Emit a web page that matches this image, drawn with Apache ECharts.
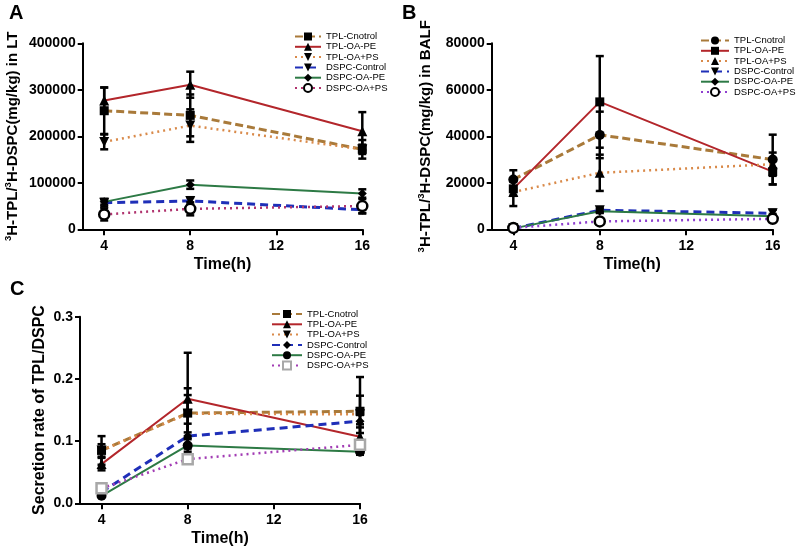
<!DOCTYPE html>
<html>
<head>
<meta charset="utf-8">
<script src="https://cdn.jsdelivr.net/npm/echarts@6/dist/echarts.min.js"></script>
<style>html,body{margin:0;padding:0;background:#fff}#c{width:800px;height:552px}</style>
</head>
<body>
<div id="c"></div>
<script>
// ---------- data ----------
const times = [4, 8, 16];
const xTickValues = [4, 8, 12, 16];
const seriesNames = ['TPL-Cnotrol', 'TPL-OA-PE', 'TPL-OA+PS', 'DSPC-Control', 'DSPC-OA-PE', 'DSPC-OA+PS'];

// Panel A: 3H-TPL/3H-DSPC (mg/kg) in LT
const aTplCnotrol = [255000, 245000, 172000];
const aTplOaPe = [277000, 311000, 211000];
const aTplOaPs = [188000, 223000, 172000];
const aDspcControl = [57000, 61000, 42000];
const aDspcOaPe = [59000, 96000, 77000];
const aDspcOaPs = [32000, 44000, 50000];
const aTplCnotrolErr = [50000, 45000, 20000];
const aTplOaPeErr = [28000, 28000, 41000];
const aTplOaPsErr = [16000, 35000, 10000];
const aDspcControlErr = [8000, 8000, 8000];
const aDspcOaPeErr = [6000, 9000, 9000];
const aDspcOaPsErr = [13000, 14000, 15000];
const aYTicks = [0, 100000, 200000, 300000, 400000];

// Panel B: 3H-TPL/3H-DSPC (mg/kg) in BALF
const bTplCnotrol = [21400, 40600, 30000];
const bTplOaPe = [17400, 54800, 24800];
const bTplOaPs = [16000, 24300, 28000];
const bDspcControl = [400, 8200, 6900];
const bDspcOaPe = [400, 7800, 5600];
const bDspcOaPs = [600, 3400, 4500];
const bTplCnotrolErr = [4000, 10000, 10700];
const bTplOaPeErr = [3000, 19700, 5500];
const bTplOaPsErr = [6000, 7800, 5000];
const bDspcControlErr = [200, 1000, 1500];
const bDspcOaPeErr = [200, 800, 1000];
const bDspcOaPsErr = [200, 600, 800];
const bYTicks = [0, 20000, 40000, 60000, 80000];

// Panel C: secretion rate of TPL/DSPC
const cTplCnotrol = [0.085, 0.145, 0.148];
const cTplOaPe = [0.063, 0.168, 0.107];
const cTplOaPs = [0.085, 0.144, 0.143];
const cDspcControl = [0.018, 0.108, 0.132];
const cDspcOaPe = [0.012, 0.093, 0.083];
const cDspcOaPs = [0.024, 0.071, 0.094];
const cTplCnotrolErr = [0.023, 0.040, 0.055];
const cTplOaPeErr = [0.010, 0.074, 0.020];
const cTplOaPsErr = [0.010, 0.030, 0.030];
const cDspcControlErr = [0.003, 0.020, 0.010];
const cDspcOaPeErr = [0.002, 0.010, 0.005];
const cDspcOaPsErr = [0.003, 0.005, 0.005];
const cYTicks = [0, 0.1, 0.2, 0.3];

// ---------- styles ----------
const FONT = 'Liberation Sans';
const lineStyles = [
  {color: '#a97a3a', width: 3, type: [8, 4]},
  {color: '#b3262b', width: 2, type: 'solid'},
  {color: '#d98a4a', width: 2.5, type: [2, 4]},
  {color: '#1f2fb8', width: 3, type: [8, 5]},
  {color: '#2d7a45', width: 2, type: 'solid'},
  null
];
const purple = ['#b0336e', '#8f3fcf', '#a23cb4'];
const BLACK = {color: '#000'};
const OPEN = {color: '#fff', borderColor: '#000', borderWidth: 2.5};
const OPEN_GREY = {color: '#fff', borderColor: '#a8a8a8', borderWidth: 2.5};
const markers = [
  // panel A
  [['rect', 9, 0, BLACK], ['triangle', 10, 0, BLACK], ['triangle', 10, 180, BLACK], ['triangle', 10, 180, BLACK], ['diamond', 9, 0, BLACK], ['circle', 10, 0, OPEN]],
  // panel B
  [['circle', 10, 0, BLACK], ['rect', 9, 0, BLACK], ['triangle', 10, 0, BLACK], ['triangle', 10, 180, BLACK], ['diamond', 9, 0, BLACK], ['circle', 10, 0, OPEN]],
  // panel C
  [['rect', 9, 0, BLACK], ['triangle', 10, 0, BLACK], ['triangle', 10, 180, BLACK], ['diamond', 9, 0, BLACK], ['circle', 10, 0, BLACK], ['rect', 10, 0, OPEN_GREY]]
];

const panels = [
  {vals: [aTplCnotrol, aTplOaPe, aTplOaPs, aDspcControl, aDspcOaPe, aDspcOaPs],
   errs: [aTplCnotrolErr, aTplOaPeErr, aTplOaPsErr, aDspcControlErr, aDspcOaPeErr, aDspcOaPsErr],
   ticks: aYTicks},
  {vals: [bTplCnotrol, bTplOaPe, bTplOaPs, bDspcControl, bDspcOaPe, bDspcOaPs],
   errs: [bTplCnotrolErr, bTplOaPeErr, bTplOaPsErr, bDspcControlErr, bDspcOaPeErr, bDspcOaPsErr],
   ticks: bYTicks},
  {vals: [cTplCnotrol, cTplOaPe, cTplOaPs, cDspcControl, cDspcOaPe, cDspcOaPs],
   errs: [cTplCnotrolErr, cTplOaPeErr, cTplOaPsErr, cDspcControlErr, cDspcOaPeErr, cDspcOaPsErr],
   ticks: cYTicks}
];

const grids = [
  {left: 82.7, top: 43.3, width: 279.6, height: 186},
  {left: 491.7, top: 43.3, width: 281, height: 186},
  {left: 80, top: 316.7, width: 280, height: 186.6}
];
const legendPos = [
  {left: 294, top: 31.5, itemWidth: 26},
  {left: 700, top: 35.5, itemWidth: 28},
  {left: 271, top: 309, itemWidth: 30}
];
const yNames = [
  '{s|3}{m|H-TPL/}{s|3}{m|H-DSPC(mg/kg) in LT}',
  '{s|3}{m|H-TPL/}{s|3}{m|H-DSPC(mg/kg) in BALF}',
  '{c|Secretion rate of TPL/DSPC}'
];
const yNameGaps = [62, 58, 31];
const letters = ['A', 'B', 'C'];
const letterPos = [[9, 3], [402, 3], [10, 279]];

function errRender(params, api) {
  const x = api.value(0), lo = api.value(1), hi = api.value(2);
  const pLo = api.coord([x, lo]);
  const pHi = api.coord([x, hi]);
  const w = 4;
  const st = {stroke: '#000', lineWidth: 2.5};
  return {type: 'group', children: [
    {type: 'line', shape: {x1: pLo[0], y1: pLo[1], x2: pHi[0], y2: pHi[1]}, style: st},
    {type: 'line', shape: {x1: pLo[0] - w, y1: pLo[1], x2: pLo[0] + w, y2: pLo[1]}, style: st},
    {type: 'line', shape: {x1: pHi[0] - w, y1: pHi[1], x2: pHi[0] + w, y2: pHi[1]}, style: st}
  ]};
}

const xAxes = [], yAxes = [], series = [], legends = [], titles = [];
panels.forEach((p, pi) => {
  const ticks = p.ticks;
  xAxes.push({
    type: 'value', gridIndex: pi, min: 3, max: 16,
    name: 'Time(h)', nameLocation: 'middle', nameGap: 27,
    nameTextStyle: {fontFamily: FONT, fontWeight: 'bold', fontSize: 16, color: '#000'},
    axisLine: {show: true, onZero: false, lineStyle: {color: '#000', width: 2}},
    axisTick: {show: true, length: 6, lineStyle: {color: '#000', width: 2}, customValues: xTickValues},
    axisLabel: {fontFamily: FONT, fontWeight: 'bold', fontSize: 14, color: '#000', margin: 10, customValues: xTickValues},
    splitLine: {show: false}
  });
  yAxes.push({
    type: 'value', gridIndex: pi, min: ticks[0], max: ticks[ticks.length - 1],
    interval: ticks[1] - ticks[0],
    name: yNames[pi], nameLocation: 'middle', nameGap: yNameGaps[pi], nameRotate: 90,
    nameTextStyle: {fontFamily: FONT, fontWeight: 'bold', fontSize: 15, color: '#000',
      rich: {
        s: {fontFamily: FONT, fontWeight: 'bold', fontSize: 9.5, color: '#000', verticalAlign: 'top', lineHeight: 17},
        m: {fontFamily: FONT, fontWeight: 'bold', fontSize: 15, color: '#000', verticalAlign: 'bottom', lineHeight: 17},
        c: {fontFamily: FONT, fontWeight: 'bold', fontSize: 16, color: '#000', lineHeight: 18}
      }},
    axisLine: {show: true, lineStyle: {color: '#000', width: 2}},
    axisTick: {show: true, length: 5, lineStyle: {color: '#000', width: 2}},
    axisLabel: {fontFamily: FONT, fontWeight: 'bold', fontSize: 14, color: '#000', margin: 7,
      formatter: pi === 2 ? (v => v.toFixed(1)) : (v => String(Math.round(v)))},
    splitLine: {show: false}
  });
  const suffix = ' '.repeat(pi);
  const legendData = [];
  const errData = [];
  p.vals.forEach((vals, si) => {
    const nm = seriesNames[si] + suffix;
    legendData.push(nm);
    const mk = markers[pi][si];
    const ls = lineStyles[si] || {color: purple[pi], width: 2.5, type: [2, 4]};
    series.push({
      type: 'line', name: nm, xAxisIndex: pi, yAxisIndex: pi,
      data: times.map((t, j) => [t, vals[j]]),
      symbol: mk[0], symbolSize: mk[1], symbolRotate: mk[2], showSymbol: true,
      itemStyle: mk[3], lineStyle: ls, clip: false, animation: false,
      z: (mk[3] === BLACK) ? 2 : 4
    });
    times.forEach((t, j) => errData.push([t, vals[j] - p.errs[si][j], vals[j] + p.errs[si][j]]));
  });
  series.push({
    type: 'custom', name: 'err' + pi, xAxisIndex: pi, yAxisIndex: pi,
    data: errData, renderItem: errRender, encode: {x: 0, y: [1, 2]}, z: 3, animation: false, silent: true
  });
  legends.push({
    data: legendData, orient: 'vertical', left: legendPos[pi].left, top: legendPos[pi].top,
    itemWidth: legendPos[pi].itemWidth, itemHeight: 10, itemGap: 0.3, padding: 0,
    selectedMode: false, formatter: n => n.trim(),
    textStyle: {fontFamily: FONT, fontSize: 9.5, color: '#000', lineHeight: 10}
  });
  titles.push({text: letters[pi], left: letterPos[pi][0], top: letterPos[pi][1], padding: 0,
    textStyle: {fontFamily: FONT, fontWeight: 'bold', fontSize: 20, color: '#000'}});
});

const chart = echarts.init(document.getElementById('c'), null, {renderer: 'canvas'});
chart.setOption({
  backgroundColor: '#fff',
  animation: false,
  title: titles,
  grid: grids,
  xAxis: xAxes,
  yAxis: yAxes,
  legend: legends,
  series: series
});
</script>
</body>
</html>
